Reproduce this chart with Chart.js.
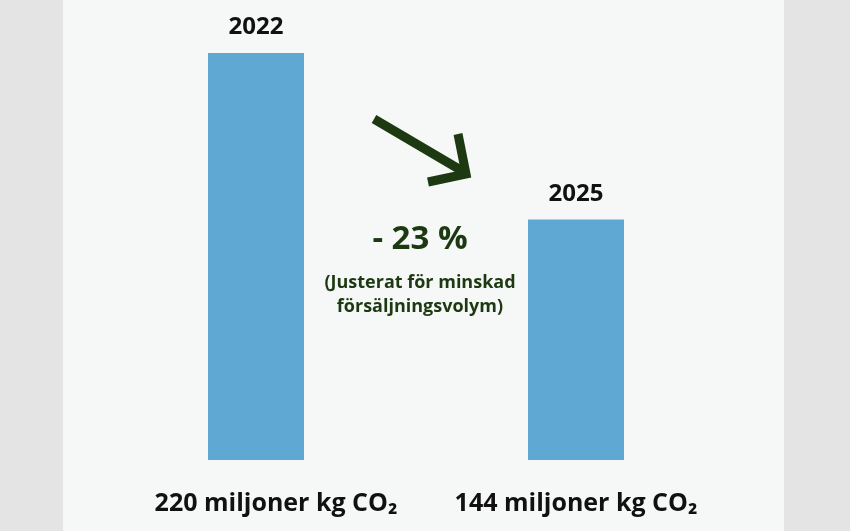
<!DOCTYPE html>
<html>
<head>
<meta charset="utf-8">
<script src="https://cdn.jsdelivr.net/npm/chart.js@4.4.1/dist/chart.umd.min.js"></script>
<style>
  html, body { margin: 0; padding: 0; background: #e4e4e4; }
  #panel { position: absolute; left: 63px; top: 0; width: 721px; height: 531px; background: #f6f8f8; }
  #wrap { position: absolute; left: 0; top: 0; width: 850px; height: 531px; }
</style>
</head>
<body>
<div id="panel"></div>
<div id="wrap"><canvas id="chart" width="850" height="531"></canvas></div>
<script>
// data
let years = ['2022', '2025'];
let barValues = [220, 130];
let amountLabels = ['220 miljoner kg CO\u2082', '144 miljoner kg CO\u2082'];
let changeText = '- 23 %';
let noteLines = ['(Justerat för minskad', 'försäljningsvolym)'];

let barColor = '#5fa8d3';
let green = '#1d3912';
let font = '"Open Sans", "DejaVu Sans", sans-serif';

// year on top of each bar, amount under it
let labelPlugin = {
  id: 'labels',
  afterDatasetsDraw: function(chart) {
    let ctx = chart.ctx;
    let meta = chart.getDatasetMeta(0);
    ctx.save();
    ctx.fillStyle = '#111';
    ctx.textAlign = 'center';
    ctx.textBaseline = 'alphabetic';
    ctx.font = 'bold 24px ' + font;
    meta.data.forEach(function(bar, i) {
      ctx.fillText(years[i], bar.x, bar.y - 19);
    });
    ctx.font = 'bold 25px ' + font;
    let shift = [20, 0];
    meta.data.forEach(function(bar, i) {
      ctx.fillText(amountLabels[i], bar.x + shift[i], chart.chartArea.bottom + 51);
    });

    // arrow + change text between the bars
    let x0 = meta.data[0].x, x1 = meta.data[1].x;
    let mid = (x0 + x1) / 2 + 4;
    ctx.strokeStyle = green;
    ctx.lineWidth = 9;
    ctx.lineCap = 'butt';
    ctx.lineJoin = 'miter';
    ctx.beginPath();
    ctx.moveTo(374, 119);
    ctx.lineTo(464, 172);
    ctx.stroke();
    ctx.beginPath();
    ctx.moveTo(458, 134);
    ctx.lineTo(466, 174);
    ctx.lineTo(428, 182);
    ctx.stroke();

    ctx.fillStyle = green;
    ctx.font = 'bold 33px ' + font;
    ctx.fillText(changeText, mid, 249);
    ctx.font = 'bold 18px ' + font;
    ctx.fillText(noteLines[0], mid, 288);
    ctx.fillText(noteLines[1], mid, 312);
    ctx.restore();
  }
};

new Chart(document.getElementById('chart'), {
  type: 'bar',
  data: {
    labels: years,
    datasets: [{
      data: barValues,
      backgroundColor: barColor,
      borderWidth: 0,
      barPercentage: 0.3,
      categoryPercentage: 1
    }]
  },
  options: {
    responsive: false,
    animation: false,
    layout: { padding: { left: 96, right: 114, top: 53, bottom: 71 } },
    plugins: { legend: { display: false }, tooltip: { enabled: false } },
    scales: {
      x: { display: false },
      y: { display: false, min: 0, max: 220 }
    }
  },
  plugins: [labelPlugin]
});
</script>
</body>
</html>
